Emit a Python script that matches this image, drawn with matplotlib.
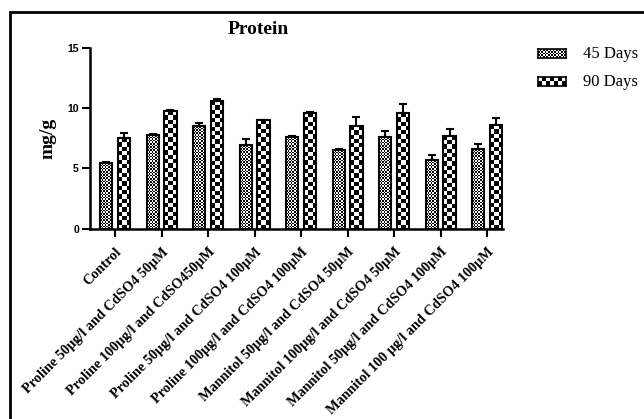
import numpy as np
import matplotlib
matplotlib.use("Agg")
import matplotlib.pyplot as plt
from matplotlib.colors import ListedColormap
from matplotlib.patches import Rectangle

categories = ["Control",
              "Proline 50µg/l and CdSO4 50µM",
              "Proline 100µg/l and CdSO450µM",
              "Proline 50µg/l and CdSO4 100µM",
              "Proline 100µg/l and CdSO4 100µM",
              "Mannitol 50µg/l and CdSO4 50µM",
              "Mannitol 100µg/l and CdSO4 50µM",
              "Mannitol 50µg/l and CdSO4 100µM",
              "Mannitol 100 µg/l and CdSO4 100µM"]
days45 = [5.42, 7.76, 8.53, 6.93, 7.62, 6.52, 7.60, 5.69, 6.58]
err45 = [0.08, 0.08, 0.27, 0.50, 0.10, 0.05, 0.52, 0.44, 0.41]
days90 = [7.49, 9.75, 10.58, 8.98, 9.56, 8.53, 9.61, 7.68, 8.59]
err90 = [0.45, 0.08, 0.20, 0.05, 0.10, 0.72, 0.72, 0.56, 0.58]
series_names = ["45 Days", "90 Days"]

W, H = 644, 419
fig = plt.figure(figsize=(W / 100, H / 100), dpi=100)
ax = fig.add_axes([90 / W, 1 - 228.7 / H, 413 / W, 181 / H])

checker = ListedColormap(["white", "black"])


def checker_fill(bar, cell):
    # fill bar with a checkerboard, cell size in pixels
    x, y = bar.get_x(), bar.get_y()
    w, h = bar.get_width(), bar.get_height()
    p0 = ax.transData.transform((x, y))
    p1 = ax.transData.transform((x + w, y + h))
    nx = max(1, int(round(abs(p1[0] - p0[0]) / cell)))
    ny = max(1, int(round(abs(p1[1] - p0[1]) / cell)))
    arr = np.add.outer(np.arange(ny), np.arange(nx)) % 2
    im = ax.imshow(arr, extent=[x, x + w, y, y + h], cmap=checker,
                   interpolation="nearest", aspect="auto", origin="lower",
                   zorder=2)
    im.set_clip_path(bar)


x = np.arange(len(categories))
bw = 0.26
off = 0.19
ax.set_xlim(-0.54, 8.34)
ax.set_ylim(0, 15)

bars45 = ax.bar(x - off, days45, bw, facecolor="none", edgecolor="black",
                linewidth=1.5, zorder=3)
bars90 = ax.bar(x + off, days90, bw, facecolor="none", edgecolor="black",
                linewidth=1.5, zorder=3)
ax.errorbar(x - off, days45, yerr=[np.zeros(len(x)), err45], fmt="none",
            ecolor="black", elinewidth=1.5, capsize=3, capthick=1.5, zorder=1)
ax.errorbar(x + off, days90, yerr=[np.zeros(len(x)), err90], fmt="none",
            ecolor="black", elinewidth=1.5, capsize=3, capthick=1.5, zorder=1)

for b in bars45:
    checker_fill(b, 1.6)
for b in bars90:
    checker_fill(b, 4.3)

ax.set_xlim(-0.54, 8.34)
ax.set_ylim(0, 15)

for s in ["top", "right"]:
    ax.spines[s].set_visible(False)
for s in ["left", "bottom"]:
    ax.spines[s].set_linewidth(1.8)

ax.set_yticks([0, 5, 10, 15])
ax.tick_params(axis="both", width=1.5, length=6, direction="out")
ax.tick_params(axis="y", labelsize=7.5, pad=2)
for t in ax.get_yticklabels():
    t.set_fontweight("bold")
    t.set_family("Liberation Sans")

ax.set_xticks(x)
ax.set_xticklabels(categories, rotation=45, ha="right", rotation_mode="anchor",
                   family="Liberation Serif", fontweight="bold", fontsize=10.3)
ax.tick_params(axis="x", pad=6)

ax.set_ylabel("mg/g", family="Liberation Serif", fontweight="bold",
              fontsize=14, labelpad=8)
fig.text(258 / W, 1 - 29 / H, "Protein", family="Liberation Serif",
         fontweight="bold", fontsize=14, ha="center", va="center")

# legend swatches
for i, (name, cell) in enumerate(zip(series_names, [1.6, 4.0])):
    yc = 54 + i * 28
    sw = fig.add_axes([538 / W, 1 - (yc + 4.5) / H, 28 / W, 9 / H])
    ny = 2 if cell > 3 else 5
    nx = 7 if cell > 3 else 17
    arr = np.add.outer(np.arange(ny), np.arange(nx)) % 2
    sw.imshow(arr, cmap=checker, interpolation="nearest", aspect="auto")
    sw.set_xticks([])
    sw.set_yticks([])
    for s in sw.spines.values():
        s.set_linewidth(1.2)
    fig.text(583 / W, 1 - yc / H, name, family="Liberation Serif",
             fontsize=12, ha="left", va="center")

# outer frame
fig.patches.append(Rectangle((10 / W, -0.1), 1.2, 1 - 12 / H + 0.1,
                             transform=fig.transFigure, fill=False,
                             edgecolor="black", linewidth=2))

fig.savefig("out.png", dpi=100)
